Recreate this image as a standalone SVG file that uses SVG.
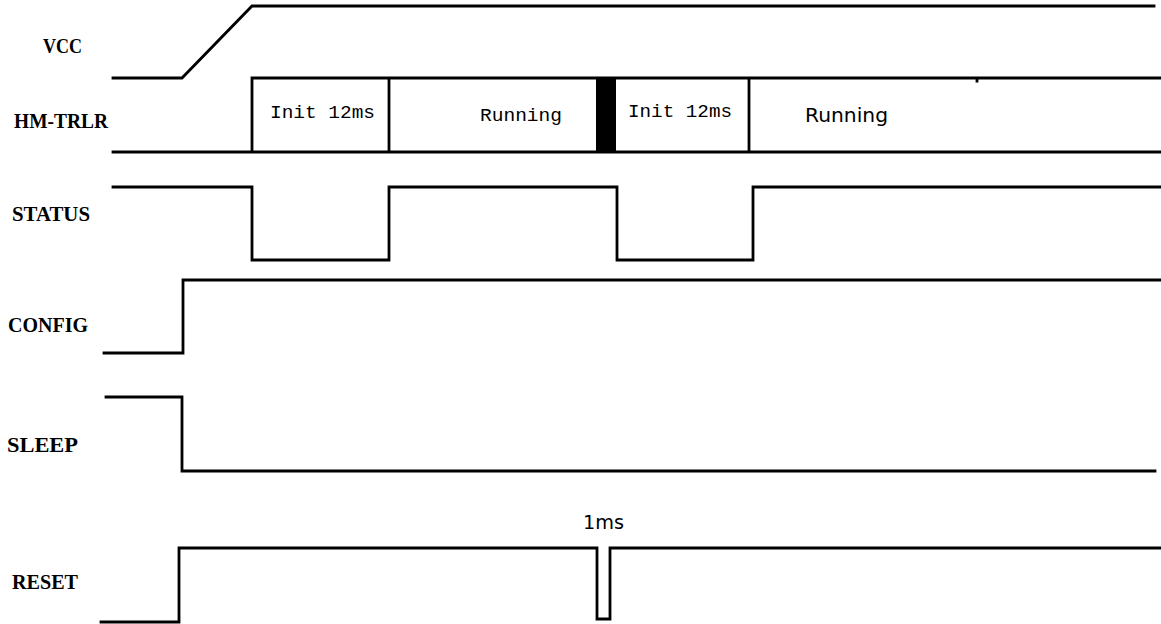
<svg xmlns="http://www.w3.org/2000/svg" width="1161" height="624" viewBox="0 0 1161 624">
<style>
.sig{fill:none;stroke:#000;stroke-width:2.8;stroke-linejoin:miter;stroke-linecap:square}
.lbl{font-family:"Liberation Serif",serif;font-weight:bold;font-size:21px;fill:#000}
.mono{font-family:"Liberation Mono",monospace;font-size:19px;fill:#000}
.sans{font-family:"DejaVu Sans","Liberation Sans",sans-serif;font-size:19px;fill:#000}
</style>
<rect width="1161" height="624" fill="#fff"/>
<g id="labels">
<text class="lbl" x="43" y="53" textLength="39" lengthAdjust="spacingAndGlyphs">VCC</text>
<text class="lbl" x="14" y="128" textLength="94" lengthAdjust="spacingAndGlyphs">HM-TRLR</text>
<text class="lbl" x="12" y="221" textLength="78" lengthAdjust="spacingAndGlyphs">STATUS</text>
<text class="lbl" x="8" y="332" textLength="80" lengthAdjust="spacingAndGlyphs">CONFIG</text>
<text class="lbl" x="7" y="452" textLength="71" lengthAdjust="spacingAndGlyphs">SLEEP</text>
<text class="lbl" x="12" y="589" textLength="66" lengthAdjust="spacingAndGlyphs">RESET</text>
</g>
<g id="vcc">
<path class="sig" d="M113 78 H182 L252 6 H1154"/>
</g>
<g id="hm-trlr">
<path class="sig" d="M252 78 H1161 M113 152 H1161 M252 78 V152 M389 78 V152 M749 78 V152 M977 78 V81"/>
<rect x="596" y="78" width="20" height="74" fill="#000"/>
<text class="mono" x="270" y="118" textLength="105" lengthAdjust="spacingAndGlyphs">Init 12ms</text>
<text class="mono" x="480" y="121" textLength="82" lengthAdjust="spacingAndGlyphs">Running</text>
<text class="mono" x="628" y="117" textLength="104" lengthAdjust="spacingAndGlyphs">Init 12ms</text>
<text class="sans" x="805" y="122" textLength="83" lengthAdjust="spacingAndGlyphs">Running</text>
</g>
<g id="status">
<path class="sig" d="M113 187 H252 V260 H389 V187 H617 V260 H753 V187 H1161"/>
</g>
<g id="config">
<path class="sig" d="M104 353 H183 V280 H1161"/>
</g>
<g id="sleep">
<path class="sig" d="M106 397 H182 V471 H1155"/>
</g>
<g id="reset">
<path class="sig" d="M101 622 H179 V548 H597 V619 H610 V548 H1161"/>
<text class="sans" x="583" y="529" textLength="41" lengthAdjust="spacingAndGlyphs">1ms</text>
</g>
</svg>
